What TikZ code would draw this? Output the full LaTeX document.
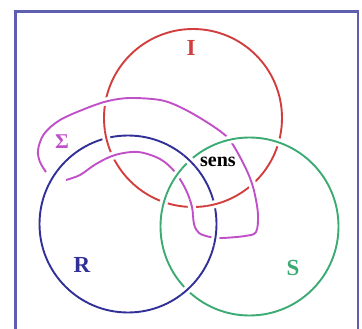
\documentclass[tikz,border=0pt]{standalone}
\usepackage{fontspec}
\setmainfont{Liberation Serif}
\usetikzlibrary{intersections}
\definecolor{cred}{RGB}{210,62,62}
\definecolor{cblue}{RGB}{48,48,150}
\definecolor{cgreen}{RGB}{60,170,115}
\definecolor{cmag}{RGB}{192,80,200}
\definecolor{cframe}{RGB}{95,95,175}
\newcommand\overpatch[4]{%
  \path[name intersections={of=#1 and #2, name=X#1#2, total=\t}] \pgfextra{\xdef\ntot{\t}};
  \foreach \k in {1,...,\ntot}{%
    \begin{scope}
      \clip (X#1#2-\k) circle[radius=8pt];
      \draw[halo] #3;
      \draw[ring,#4] #3;
    \end{scope}}%
}
\begin{document}
\begin{tikzpicture}[x=1pt,y=-1pt,
  ring/.style={line width=1.9pt},
  halo/.style={white,line width=8pt},
  lab/.style={font=\bfseries\fontsize{#1}{#1}\selectfont, inner sep=0pt}]
\useasboundingbox (0,0) rectangle (362,329);
\draw[cframe,line width=2.2pt] (15.5,340) -- (15.5,11.5) -- (358,11.5) -- (358,340);
\def\redpath{(193,118) circle[radius=89pt]}
\def\bluepath{(128,224) circle[radius=88.5pt]}
\def\greenpath{(249.5,226.5) circle[radius=89pt]}
\def\magpath{plot[smooth,tension=0.55] coordinates {(66,180) (80,175) (96,164) (115,155) (138,152) (160,159) (175,172) (186,190) (192,207) (194,224) (199,233) (210,237) (222,238) (245,236) (256,232) (258,215) (255,195) (250,178) (240,157) (227,137) (205,121) (180,107) (160,100) (130,98) (108,101) (87,108) (60,120) (44,134) (38,150) (40,162) (46,172)}}
\draw[ring,cred,name path=red] \redpath;
\draw[ring,cblue,name path=blue] \bluepath;
\draw[ring,cgreen,name path=green] \greenpath;
\draw[ring,cmag,name path=mag] \magpath;
\overpatch{mag}{red}{\magpath}{cmag}
\overpatch{red}{blue}{\redpath}{cred}
\overpatch{blue}{green}{\bluepath}{cblue}
\overpatch{green}{red}{\greenpath}{cgreen}
\overpatch{green}{mag}{\greenpath}{cgreen}
\overpatch{blue}{mag}{\bluepath}{cblue}
\node[lab=23,cred] (I) at (191,48) {I};
\node[lab=21,cmag] (Sig) at (62,142) {Σ};
\node[lab=20,black] (sens) at (218,162) {sens};
\node[lab=23,cblue] (R) at (82,265) {R};
\node[lab=23,cgreen] (S) at (293,268) {S};
\end{tikzpicture}
\end{document}
